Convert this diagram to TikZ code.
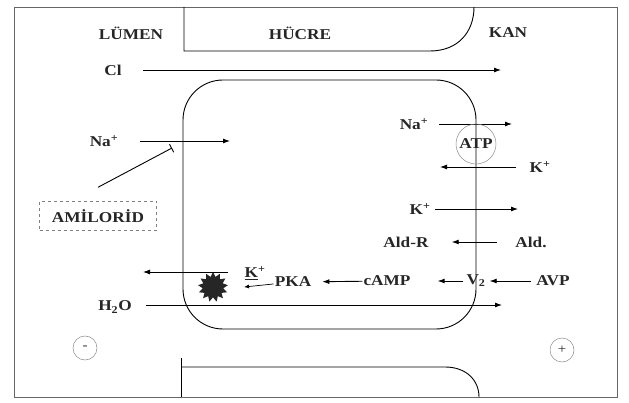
\documentclass[tikz,border=0pt]{standalone}
\usepackage{fontspec}
\setmainfont{Liberation Serif}[FakeStretch=1.15]
\usepackage{tikz}
\usetikzlibrary{arrows.meta,shapes.geometric}
\tikzset{
  arr/.style={line width=0.9pt,-{Latex[length=7pt,width=5pt]}},
  mem/.style={line width=0.9pt},
  lbl/.style={font=\fontsize{15}{17}\selectfont\bfseries,text=black!85,inner sep=1pt},
  ring/.style={circle,draw=black!45,line width=0.5pt,minimum size=#1},
  frm/.style={draw=black!60,line width=0.6pt}
}

\begin{document}
\begin{tikzpicture}[x=1pt,y=-1pt]
\useasboundingbox (0,0) rectangle (629,403);
\draw[frm] (14,7) rectangle (617,397);
\draw[mem] (184,7) -- (184,51) -- (430,51) .. controls (458,51) and (474,32) .. (474,7);
\draw[mem] (181,358) -- (181,397); \draw[mem] (181,367) -- (445,367) .. controls (466,367) and (479,380) .. (479,397);
\draw[mem,rounded corners=40pt] (183,80) rectangle (476,329);
\node[lbl] (lum) at (131,33) {LÜMEN};
\node[lbl] (hcr) at (300,33) {HÜCRE};
\node[lbl] (kan) at (508,33) {KAN};
\node[lbl] (cl) at (113,70) {Cl}; \coordinate (clend) at (501,70);
\draw[arr,shorten <=20pt] (cl) -- (clend);
\node[lbl] (nal) at (104,141) {Na\textsuperscript{+}}; \coordinate (nalend) at (230,141);
\draw[arr,shorten <=21pt] (nal) -- (nalend);
\node[lbl,draw=black!50,dashed,line width=0.4pt,minimum width=117pt,minimum height=29pt] (amil) at (98,216) {AMİLORİD};
\coordinate (blk) at (172,148);
\draw[line width=0.9pt,-{Bar[width=9pt]}] ([yshift=14pt]amil.north) -- (blk);
\node[lbl] (nar) at (414,124) {Na\textsuperscript{+}}; \coordinate (narend) at (512,124);
\draw[arr,shorten <=10pt] (nar) -- (narend);
\node[lbl,ring=40pt,inner sep=0pt] (atp) at (476,144) {ATP};
\node[lbl] (kr) at (540,167) {K\textsuperscript{+}}; \coordinate (krend) at (440,167);
\draw[arr,shorten <=12pt] (kr) -- (krend);
\node[lbl] (km) at (420,209) {K\textsuperscript{+}}; \coordinate (kmend) at (518,209);
\draw[arr,shorten <=3pt] (km) -- (kmend);
\node[lbl] (aldr) at (406,242) {Ald-R}; \node[lbl] (ald) at (531,242) {Ald.};
\draw[arr,shorten <=17pt,shorten >=22pt] (ald) -- (aldr);
\node[lbl] (avp) at (553,281) {AVP}; \node[lbl] (v2) at (476,281) {V\textsubscript{2}};
\node[lbl] (camp) at (387,281) {cAMP}; \node[lbl] (pka) at (293,282) {PKA};
\draw[arr,shorten <=4pt,shorten >=3pt] (avp) -- (v2);
\draw[arr,shorten <=2pt,shorten >=26pt] (v2) -- (camp);
\draw[arr,shorten >=10pt] (camp) -- (pka);
\node[lbl] (kl) at (255,273) {\underline{K}\textsuperscript{+}}; \coordinate (kin) at (244,287);
\draw[line width=0.7pt,-{Latex[length=5pt,width=4pt]}] (pka) -- (kin);
\node[star,star points=13,star point ratio=1.45,fill=black!85,minimum size=30pt,inner sep=0pt] (burst) at (213,287) {};
\coordinate (kout) at (228,272); \coordinate (kend) at (143,272);
\draw[arr] (kout) -- (kend);
\node[lbl] (h2o) at (115,307) {H\textsubscript{2}O}; \coordinate (h2oend) at (502,305);
\draw[arr,shorten <=13pt] (h2o.east |- h2oend) -- (h2oend);
\node[lbl,ring=24pt,font=\fontsize{13}{15}\selectfont] (neg) at (85,348) {-};
\node[lbl,ring=24pt,font=\fontsize{13}{15}\selectfont] (pos) at (562,350) {+};
\end{tikzpicture}
\end{document}
